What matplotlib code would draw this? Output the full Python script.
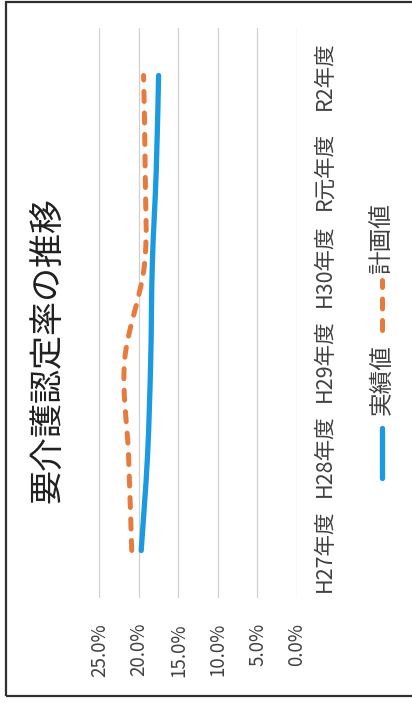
import numpy as np
import matplotlib
matplotlib.use("Agg")
from matplotlib import pyplot as plt
from matplotlib.path import Path
from matplotlib.patches import PathPatch, Rectangle
from matplotlib.lines import Line2D

plt.rcParams['font.family'] = ['Noto Sans CJK JP', 'DejaVu Sans']

title = '要介護認定率の推移'
years = ['H27年度', 'H28年度', 'H29年度', 'H30年度', 'R元年度', 'R2年度']
actual = [19.7, 18.9, 18.5, 18.3, 17.8, 17.5]   # 実績値 (%)
plan = [20.9, 21.3, 21.8, 19.3, 19.2, 19.4]     # 計画値 (%)
ticks = [0, 5, 10, 15, 20, 25]
series_names = ['実績値', '計画値']
colors = ['#1a9ae0', '#e87b3c']

W, H = 412, 704
fig = plt.figure(figsize=(W / 100, H / 100), dpi=100)


def px(x, y):
    # pixel position (from top-left) -> figure fraction
    return x / W, 1 - y / H


# chart is printed rotated: categories run bottom->top, values right->left
left, top, right, bottom = 99.3, 28, 297, 598
ax = fig.add_axes([left / W, 1 - bottom / H, (right - left) / W, (bottom - top) / H])
ax.set_xlim(25, 0)
ax.set_ylim(-0.5, len(years) - 0.5)
for s in ax.spines.values():
    s.set_visible(False)
ax.set_xticks(ticks)
ax.set_xticklabels([f'{t:.1f}%' for t in ticks], rotation=90, fontsize=13.5, color='#404040')
ax.set_yticks(range(len(years)))
ax.set_yticklabels(years, rotation=90, fontsize=15.5, color='#404040', va='center')
ax.yaxis.tick_right()
ax.tick_params(axis='x', length=0, pad=18)
ax.tick_params(axis='y', length=0, pad=12)
ax.grid(axis='x', color='#d0d0d0', linewidth=0.9)
ax.set_axisbelow(True)


def smooth_path(vals):
    # excel-like smoothed line: cubic bezier through each point
    pts = np.column_stack([vals, np.arange(len(vals))]).astype(float)
    ext = np.vstack([pts[0], pts, pts[-1]])
    verts = [pts[0]]
    codes = [Path.MOVETO]
    for i in range(len(pts) - 1):
        p0, p1, p2, p3 = ext[i], ext[i + 1], ext[i + 2], ext[i + 3]
        verts += [p1 + (p2 - p0) / 6, p2 - (p3 - p1) / 6, p2]
        codes += [Path.CURVE4] * 3
    return Path(verts, codes)


ax.add_patch(PathPatch(smooth_path(actual), fill=False, edgecolor=colors[0],
                       linewidth=3.8, capstyle='round', joinstyle='round'))
ax.add_patch(PathPatch(smooth_path(plan), fill=False, edgecolor=colors[1],
                       linewidth=3.6, linestyle=(0, (2, 2.3)), capstyle='round'))

# title
fig.text(*px(49, 350), title, rotation=90, ha='center', va='center',
         fontsize=24.5, color='#202020')

# legend (rotated)
lx = 382
fig.add_artist(Line2D(*zip(px(lx, 478), px(lx, 428)), color=colors[0],
                      linewidth=3.8, solid_capstyle='round'))
fig.text(*px(lx, 380), series_names[0], rotation=90, ha='center', va='center',
         fontsize=17, color='#404040')
fig.add_artist(Line2D(*zip(px(lx, 330), px(lx, 280)), color=colors[1],
                      linewidth=3.6, linestyle=(0, (2, 2.3)), dash_capstyle='round'))
fig.text(*px(lx, 239), series_names[1], rotation=90, ha='center', va='center',
         fontsize=17, color='#404040')

# chart border
x0, y0 = px(6, 696)
x1, y1 = px(430, 2)
fig.add_artist(Rectangle((x0, y0), x1 - x0, y1 - y0, transform=fig.transFigure,
                         fill=False, edgecolor='#303030', linewidth=1.6))

fig.savefig('out.png', dpi=100)
